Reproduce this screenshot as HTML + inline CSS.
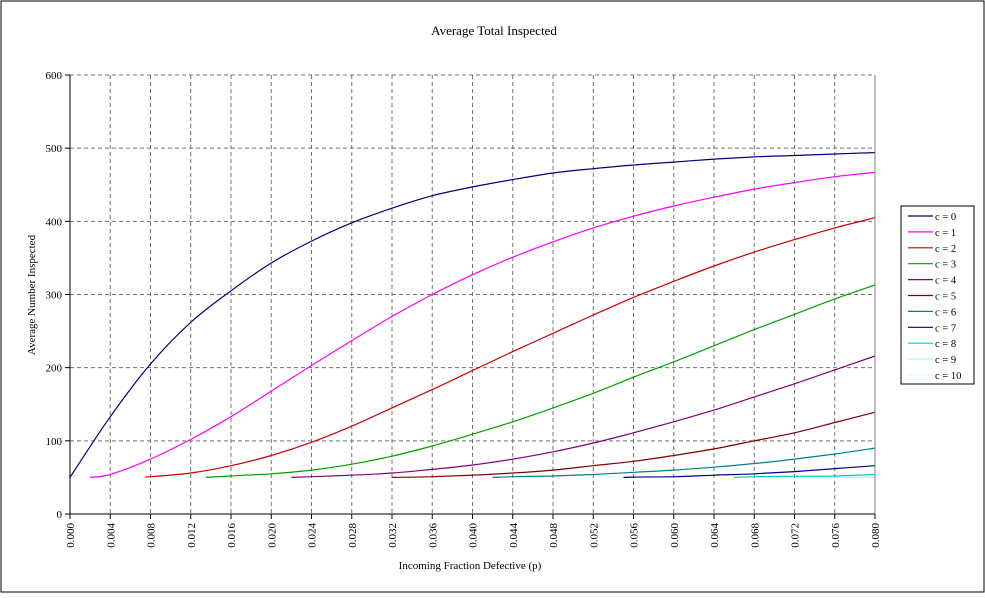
<!DOCTYPE html>
<html><head><meta charset="utf-8"><style>
body{margin:0;background:#fff;}
svg{font-family:"Liberation Serif",serif;}
</style></head><body>
<svg width="985" height="593" xmlns="http://www.w3.org/2000/svg">
<rect x="1" y="1" width="983" height="591" fill="#fff" stroke="#000"/>
<text x="494" y="35" font-size="13" text-anchor="middle">Average Total Inspected</text>
<g id="grid"></g>
<g id="series"></g>
<g id="axes"></g>
<text x="470" y="569" font-size="11" text-anchor="middle">Incoming Fraction Defective (p)</text>
<text transform="translate(35,295) rotate(-90)" font-size="11" text-anchor="middle">Average Number Inspected</text>
<g id="legend"></g>
</svg>
<script>
const xTicks=[0,0.004,0.008,0.012,0.016,0.020,0.024,0.028,0.032,0.036,0.040,0.044,0.048,0.052,0.056,0.060,0.064,0.068,0.072,0.076,0.080];
const yTicks=[0,100,200,300,400,500,600];
const seriesNames=["c = 0","c = 1","c = 2","c = 3","c = 4","c = 5","c = 6","c = 7","c = 8","c = 9","c = 10"];
const seriesColors=["#000080","#ff00ff","#cc0000","#00a000","#800080","#800000","#008080","#000090","#00cccc","#99ffff","#d8ffff"];
const p0=[0,0.004,0.008,0.012,0.016,0.020,0.024,0.028,0.032,0.036,0.040,0.044,0.048,0.052,0.056,0.060,0.064,0.068,0.072,0.076,0.080];
const v0=[50,133,205,262,305,343,373,398,418,435,447,457,466,472,477,481,485,488,490,492,494];
const p1=[0.002,0.004,0.008,0.012,0.016,0.020,0.024,0.028,0.032,0.036,0.040,0.044,0.048,0.052,0.056,0.060,0.064,0.068,0.072,0.076,0.080];
const v1=[50,54,75,102,133,168,203,237,270,300,327,351,372,391,407,421,433,444,453,461,467];
const p2=[0.0075,0.008,0.012,0.016,0.020,0.024,0.028,0.032,0.036,0.040,0.044,0.048,0.052,0.056,0.060,0.064,0.068,0.072,0.076,0.080];
const v2=[50,51,56,66,80,98,120,145,170,196,222,247,272,296,318,339,358,375,391,405];
const p3=[0.0135,0.016,0.020,0.024,0.028,0.032,0.036,0.040,0.044,0.048,0.052,0.056,0.060,0.064,0.068,0.072,0.076,0.080];
const v3=[50,52,55,60,68,79,93,109,126,145,165,187,208,230,252,273,294,313];
const p4=[0.022,0.024,0.028,0.032,0.036,0.040,0.044,0.048,0.052,0.056,0.060,0.064,0.068,0.072,0.076,0.080];
const v4=[50,51,53,56,61,67,75,85,97,111,126,142,160,178,197,216];
const p5=[0.032,0.036,0.040,0.044,0.048,0.052,0.056,0.060,0.064,0.068,0.072,0.076,0.080];
const v5=[50,51,53,56,60,66,72,80,89,100,111,125,139];
const p6=[0.042,0.044,0.048,0.052,0.056,0.060,0.064,0.068,0.072,0.076,0.080];
const v6=[50,51,52,54,57,60,64,69,75,82,90];
const p7=[0.055,0.056,0.060,0.064,0.068,0.072,0.076,0.080];
const v7=[50,50.5,51,53,55,58,62,66];
const p8=[0.066,0.068,0.072,0.076,0.080];
const v8=[50,51,51.5,52,54];
const p9=[0.076,0.080];
const v9=[50,50.5];
const p10=[];
const v10=[];
const allP=[p0,p1,p2,p3,p4,p5,p6,p7,p8,p9,p10];
const allV=[v0,v1,v2,v3,v4,v5,v6,v7,v8,v9,v10];
const NS="http://www.w3.org/2000/svg";
const X0=70,X1=875,Y0=514,Y1=75;
const xs=p=>X0+p/0.08*(X1-X0);
const ys=v=>Y0-v/600*(Y0-Y1);
function mk(tag,attrs,parent){const e=document.createElementNS(NS,tag);for(const k in attrs)e.setAttribute(k,attrs[k]);parent.appendChild(e);return e;}
function smooth(pts){
 if(pts.length<3)return pts.map((q,j)=>(j?'L':'M')+q[0].toFixed(1)+','+q[1].toFixed(1)).join('');
 let d='M'+pts[0][0].toFixed(1)+','+pts[0][1].toFixed(1);
 for(let i=0;i<pts.length-1;i++){
  const a=pts[Math.max(0,i-1)],b=pts[i],c=pts[i+1],e=pts[Math.min(pts.length-1,i+2)];
  const c1=[b[0]+(c[0]-a[0])/6,b[1]+(c[1]-a[1])/6],c2=[c[0]-(e[0]-b[0])/6,c[1]-(e[1]-b[1])/6];
  d+='C'+c1[0].toFixed(1)+','+c1[1].toFixed(1)+' '+c2[0].toFixed(1)+','+c2[1].toFixed(1)+' '+c[0].toFixed(1)+','+c[1].toFixed(1);
 }
 return d;
}
const grid=document.getElementById('grid'),axes=document.getElementById('axes'),ser=document.getElementById('series'),leg=document.getElementById('legend');
xTicks.forEach((t,i)=>{const x=xs(t);
 if(i>0){const l=mk('line',{x1:x,x2:x,y1:Y1,y2:Y0,stroke:'#707070','stroke-dasharray':'4,3'},grid);
 
 }
 const tk=mk('line',{x1:x,x2:x,y1:Y0,y2:Y0+5,stroke:'#000'},axes);
 
 
 const tx=mk('text',{transform:`translate(${x+4},${Y0+9}) rotate(-90)`,'font-size':11,'text-anchor':'end'},axes);
 tx.textContent=t.toFixed(3);
 
 
});
yTicks.forEach((t,i)=>{const y=ys(t);
 if(i>0){const l=mk('line',{x1:X0,x2:X1,y1:y,y2:y,stroke:'#707070','stroke-dasharray':'4,3'},grid);
 
 }
 const tk=mk('line',{x1:X0-5,x2:X0,y1:y,y2:y,stroke:'#000'},axes);
 
 
 const tx=mk('text',{x:X0-8,y:y+4,'font-size':11,'text-anchor':'end'},axes);
 tx.textContent=t;
 
 
});
const ax=mk('path',{d:`M${X0},${Y1}V${Y0}H${X1}`,fill:'none',stroke:'#000'},axes);


const rb=mk('line',{x1:X1,x2:X1,y1:Y1,y2:Y0,stroke:'#808080'},axes);


allP.forEach((ps,i)=>{if(!ps.length)return;
 const pts=ps.map((p,j)=>[xs(p),ys(allV[i][j])]);
 const pa=mk('path',{d:smooth(pts),fill:'none',stroke:seriesColors[i],'stroke-width':1.2},ser);
 
 
});
const lb=mk('rect',{x:901,y:206,width:73,height:178,fill:'#fff',stroke:'#000'},leg);


seriesNames.forEach((n,i)=>{const y=216+i*15.9;
 const l=mk('line',{x1:908,x2:933,y1:y,y2:y,stroke:seriesColors[i],'stroke-width':1.2},leg);
 
 
 const t=mk('text',{x:935,y:y+4,'font-size':10.5},leg);
 t.textContent=n;
 
 
});
</script>
</body></html>
